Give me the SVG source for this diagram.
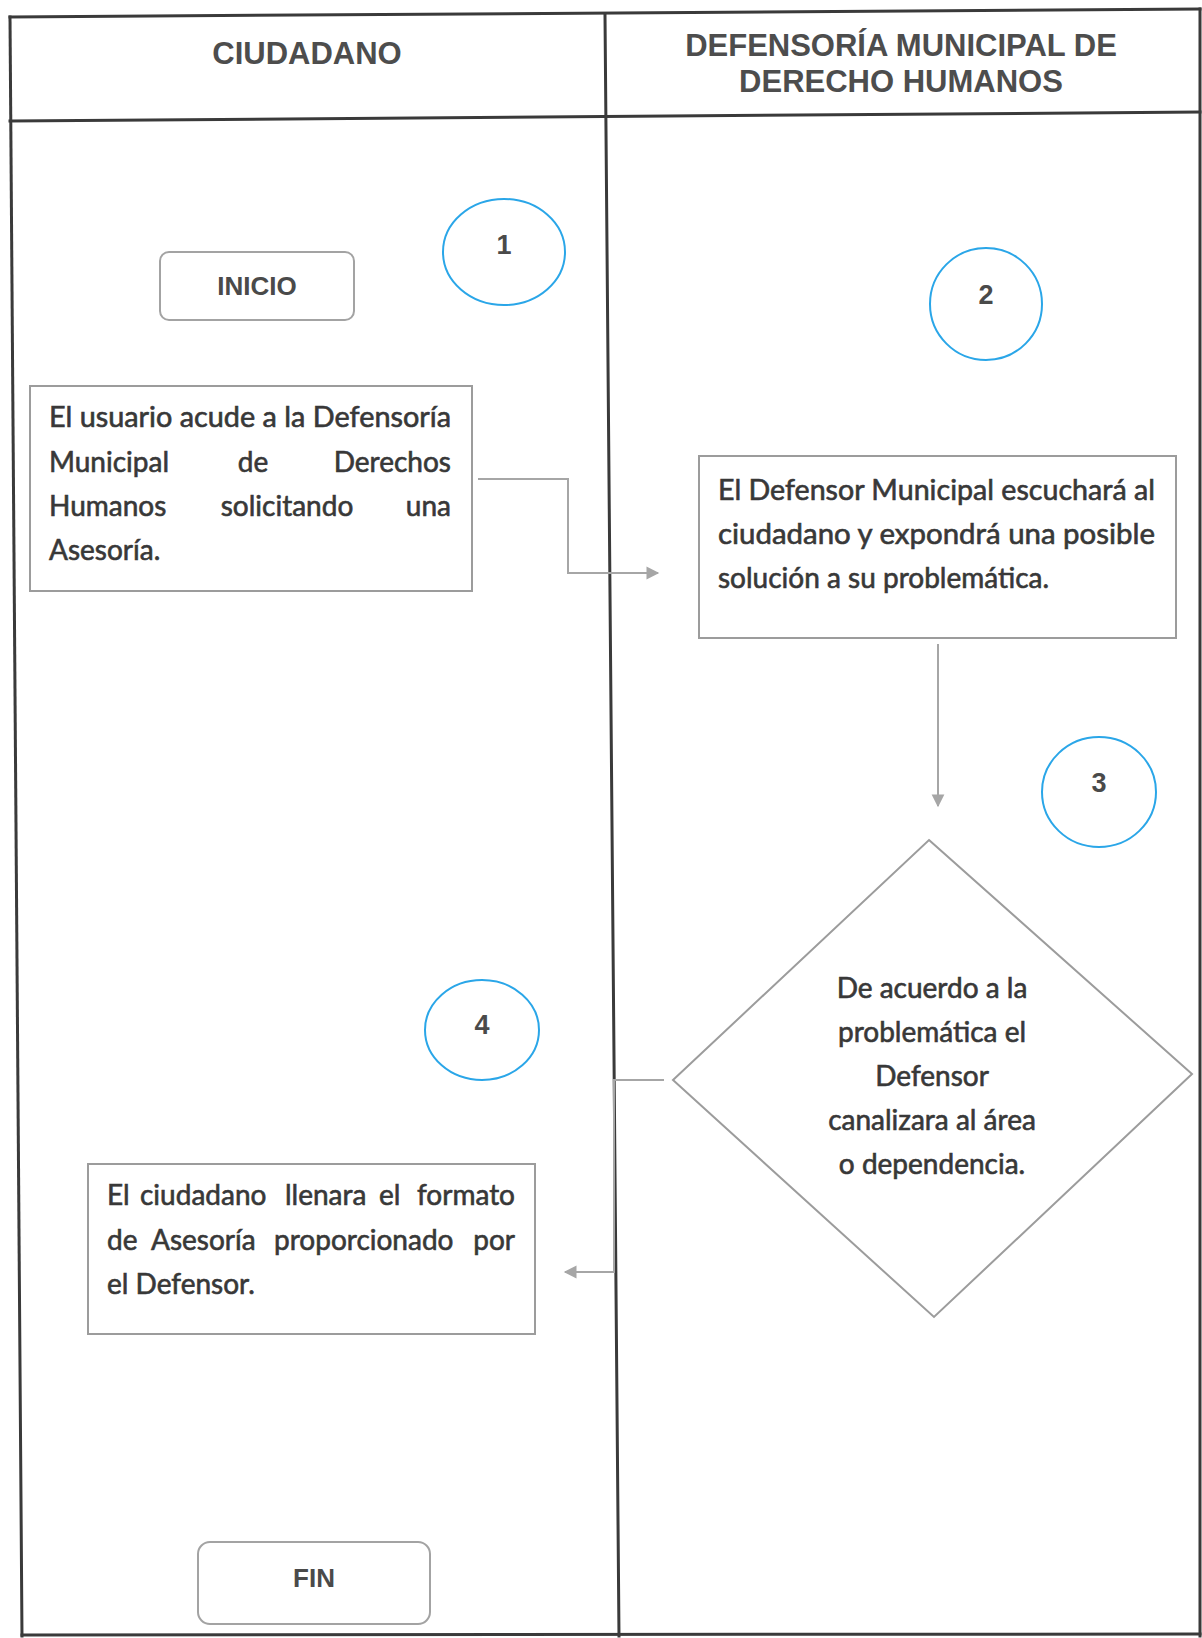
<svg xmlns="http://www.w3.org/2000/svg" width="1202" height="1638" viewBox="0 0 1202 1638">
<style>
.tbl{stroke:#3a3a3a;stroke-width:3;fill:none;stroke-linecap:square}
.hdr{font-family:"Liberation Sans",Arial,sans-serif;font-weight:bold;font-size:31px;fill:#4d4d4d;text-anchor:middle}
.box{fill:#ffffff;stroke:#9c9c9c;stroke-width:2}
.term{fill:#ffffff;stroke:#a3a3a3;stroke-width:2}
.tt{font-family:"Liberation Sans",Arial,sans-serif;font-weight:bold;font-size:26px;fill:#4a4a4a;text-anchor:middle}
.num{fill:#ffffff;stroke:#2aa6e8;stroke-width:2}
.nt{font-family:"Liberation Sans",Arial,sans-serif;font-weight:bold;font-size:27px;fill:#4a4a4a;text-anchor:middle}
.body{font-family:Lato,"Noto Sans",sans-serif;font-size:28px;fill:#383838;stroke:#383838;stroke-width:0.6}
.mid{text-anchor:middle}
.end{text-anchor:end}
.conn{fill:none;stroke:#a6a6a6;stroke-width:2}
</style>
<defs>
<marker id="ah" viewBox="0 0 10 10" refX="9" refY="5" markerWidth="8" markerHeight="8" markerUnits="userSpaceOnUse" orient="auto" overflow="visible">
<path d="M0,0 L10,5 L0,10 z" fill="#a6a6a6" transform="scale(1.6)" transform-origin="9 5"/>
</marker>
</defs>
<rect width="1202" height="1638" fill="#ffffff"/>
<g id="table">
<line class="tbl" x1="10" y1="17" x2="1200" y2="9"/>
<line class="tbl" x1="10" y1="121" x2="1200" y2="112"/>
<line class="tbl" x1="10" y1="17" x2="22" y2="1636"/>
<line class="tbl" x1="605" y1="15" x2="619" y2="1636"/>
<line class="tbl" x1="1200" y1="9" x2="1200" y2="1636"/>
<line class="tbl" x1="22" y1="1635" x2="1200" y2="1634"/>
<text class="hdr" x="307" y="64">CIUDADANO</text>
<text class="hdr" x="901" y="56">DEFENSORÍA MUNICIPAL DE</text>
<text class="hdr" x="901" y="92">DERECHO HUMANOS</text>
</g>
<g id="connectors">
<path class="conn" d="M478 479 H568 V573 H658" marker-end="url(#ah)"/>
<path class="conn" d="M938 644 V806" marker-end="url(#ah)"/>
<path class="conn" d="M664 1080 H614 V1272 H565" marker-end="url(#ah)"/>
</g>
<g id="inicio">
<rect class="term" x="160" y="252" width="194" height="68" rx="9"/>
<text class="tt" x="257" y="295">INICIO</text>
</g>
<g id="step1">
<ellipse class="num" cx="504" cy="252" rx="61" ry="53"/>
<text class="nt" x="504" y="254">1</text>
</g>
<g id="box1">
<rect class="box" x="30" y="386" width="442" height="205"/>
<text class="body" x="49" y="427" textLength="402" lengthAdjust="spacingAndGlyphs">El usuario acude a la Defensoría</text>
<text class="body" y="472"><tspan x="49">Municipal</tspan><tspan class="mid" x="253">de</tspan><tspan class="end" x="451">Derechos</tspan></text>
<text class="body" y="516"><tspan x="49">Humanos</tspan><tspan class="mid" x="287">solicitando</tspan><tspan class="end" x="451">una</tspan></text>
<text class="body" x="49" y="560">Asesoría.</text>
</g>
<g id="step2">
<circle class="num" cx="986" cy="304" r="56"/>
<text class="nt" x="986" y="304">2</text>
</g>
<g id="box2">
<rect class="box" x="699" y="456" width="477" height="182"/>
<text class="body" x="718" y="500" textLength="437" lengthAdjust="spacingAndGlyphs">El Defensor Municipal escuchará al</text>
<text class="body" x="718" y="544" textLength="437" lengthAdjust="spacingAndGlyphs">ciudadano y expondrá una posible</text>
<text class="body" x="718" y="588">solución a su problemática.</text>
</g>
<g id="step3">
<ellipse class="num" cx="1099" cy="792" rx="57" ry="55"/>
<text class="nt" x="1099" y="792">3</text>
</g>
<g id="decision">
<polygon class="box" points="929,840 1192,1074 934,1317 673,1080"/>
<text class="body mid" x="932" y="998">De acuerdo a la</text>
<text class="body mid" x="932" y="1042">problemática el</text>
<text class="body mid" x="932" y="1086">Defensor</text>
<text class="body mid" x="932" y="1130">canalizara al área</text>
<text class="body mid" x="932" y="1174">o dependencia.</text>
</g>
<g id="step4">
<ellipse class="num" cx="482" cy="1030" rx="57" ry="50"/>
<text class="nt" x="482" y="1034">4</text>
</g>
<g id="box4">
<rect class="box" x="88" y="1164" width="447" height="170"/>
<text class="body" y="1205"><tspan x="107">El</tspan><tspan x="140">ciudadano</tspan><tspan x="285">llenara</tspan><tspan x="379">el</tspan><tspan class="end" x="515">formato</tspan></text>
<text class="body" y="1250"><tspan x="107">de</tspan><tspan x="151">Asesoría</tspan><tspan x="274">proporcionado</tspan><tspan class="end" x="515">por</tspan></text>
<text class="body" x="107" y="1294">el Defensor.</text>
</g>
<g id="fin">
<rect class="term" x="198" y="1542" width="232" height="82" rx="12"/>
<text class="tt" x="314" y="1587">FIN</text>
</g>
</svg>
